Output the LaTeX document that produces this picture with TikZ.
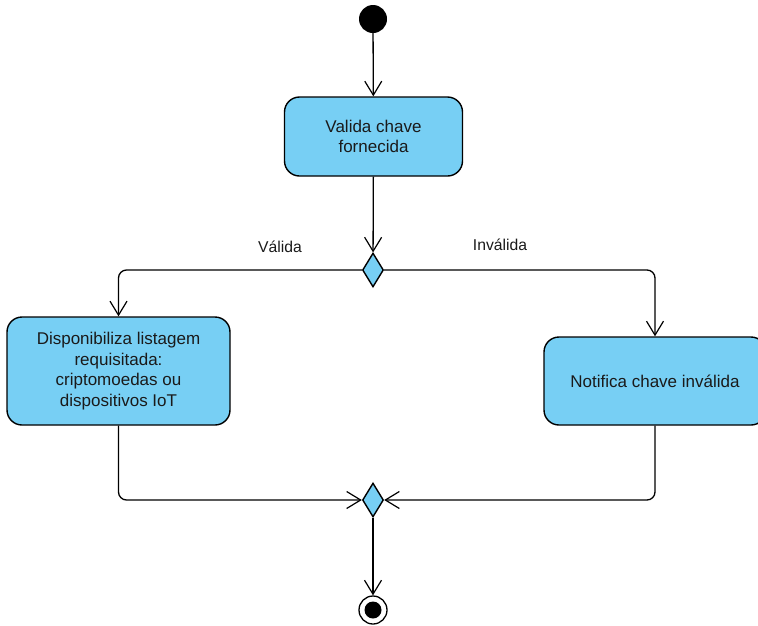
\documentclass[tikz,border=0pt]{standalone}
\usepackage{fontspec}
\setmainfont{Liberation Sans}
\usetikzlibrary{arrows.meta,shapes.geometric}
\definecolor{actfill}{HTML}{77CFF4}
\definecolor{inktext}{HTML}{1A1A1A}
\tikzset{
  activity/.style={draw=black, line width=1.4pt, fill=actfill, rounded corners=15pt,
    align=center, text=inktext, inner sep=2pt,
    font=\fontsize{17}{20.5}\selectfont},
  choice/.style={diamond, draw=black, line width=1.4pt, fill=actfill, inner sep=0pt,
    minimum width=21pt, minimum height=34pt},
  flow/.style={draw=black, line width=1.3pt, rounded corners=8pt,
    -{Straight Barb[length=14pt,width=17pt,line width=1.2pt]}},
  guard/.style={text=inktext, font=\fontsize{15.7}{18}\selectfont}
}
\begin{document}
\begin{tikzpicture}[x=1pt,y=-1pt]
  \useasboundingbox (0,0) rectangle (758,625);
  \clip (0,0) rectangle (758,625);

  % initial and final states
  \node[circle, fill=black, minimum size=28pt, inner sep=0pt] (start) at (373,19) {};
  \node[circle, draw=black, line width=1.3pt, fill=white, minimum size=28pt, inner sep=0pt,
        path picture={\fill[black] (path picture bounding box.center) circle (8.5pt);}]
        (stop) at (373,610) {};

  % actions
  \node[activity, minimum width=178pt, minimum height=79pt] (check) at (373.5,136.5)
    {Valida chave\\fornecida};
  \node[activity, minimum width=223pt, minimum height=108pt] (list) at (118.5,371)
    {Disponibiliza listagem\\requisitada:\\criptomoedas ou\\dispositivos IoT};
  \node[activity, minimum width=222pt, minimum height=88pt] (notify) at (655,381)
    {Notifica chave inválida};

  % decision and merge
  \node[choice] (decide) at (373,270) {};
  \node[choice] (merge) at (373,500) {};

  % transitions
  \draw[flow] (start) -- (check);
  \draw[flow] (check) -- (decide);
  \draw[flow] (decide.west) -| (list.north);
  \draw[flow] (decide.east) -| (notify.north);
  \draw[flow] (list.south) |- (merge.west);
  \draw[flow] (notify.south) |- (merge.east);
  \draw[flow] (merge) -- (stop);

  % guards
  \node[guard] (gvalid) at (280,247) {Válida};
  \node[guard] (ginvalid) at (500,245) {Inválida};
\end{tikzpicture}
\end{document}
